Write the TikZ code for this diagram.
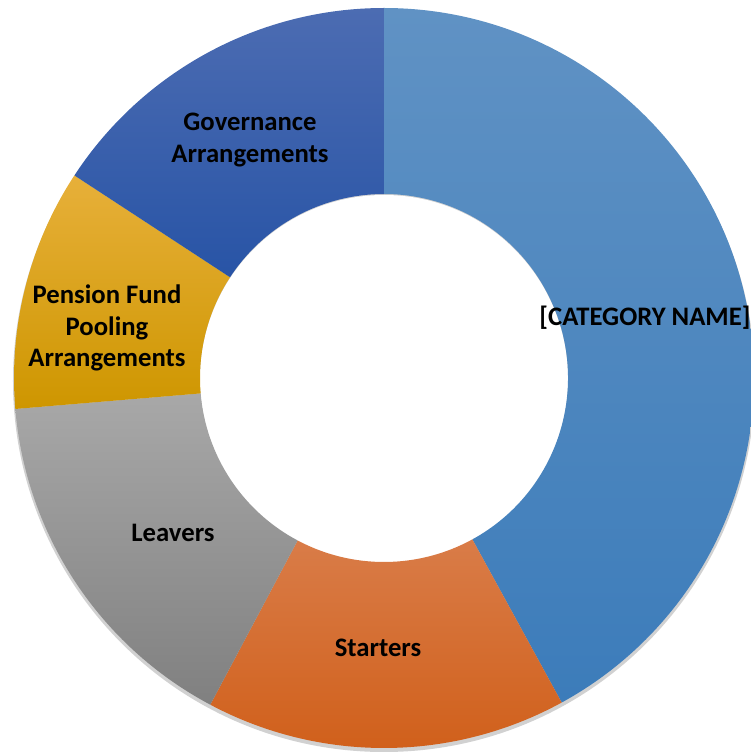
\documentclass[tikz,border=0pt]{standalone}
\usepackage{fontspec}
\setmainfont{Carlito}
\definecolor{mainTop}{RGB}{96,146,196}
\definecolor{mainBot}{RGB}{60,124,186}
\definecolor{startTop}{RGB}{217,124,72}
\definecolor{startBot}{RGB}{208,94,24}
\definecolor{leaveTop}{RGB}{168,168,168}
\definecolor{leaveBot}{RGB}{128,128,128}
\definecolor{poolTop}{RGB}{231,176,58}
\definecolor{poolBot}{RGB}{206,150,0}
\definecolor{govTop}{RGB}{76,108,178}
\definecolor{govBot}{RGB}{40,84,166}
\tikzset{
  lbl/.style={align=center,font=\bfseries\fontsize{26.8}{32}\selectfont,text=black}
}
\begin{document}
\begin{tikzpicture}[x=1bp,y=1bp]
\useasboundingbox (-384,-374) rectangle (367,378);
% soft shadow under the ring
\fill[black!18] (0,-3) circle (371);
\fill[white] (0,-1) circle (184);
% segments, clockwise from the top
\shade[top color=mainTop,bottom color=mainBot] (90:370) arc (90:-61.3:370) -- (-61.3:184) arc (-61.3:90:184) -- cycle;
\shade[top color=startTop,bottom color=startBot] (-61.3:370) arc (-61.3:-118:370) -- (-118:184) arc (-118:-61.3:184) -- cycle;
\shade[top color=leaveTop,bottom color=leaveBot] (-118:370) arc (-118:-175.2:370) -- (-175.2:184) arc (-175.2:-118:184) -- cycle;
\shade[top color=poolTop,bottom color=poolBot] (184.8:370) arc (184.8:146.8:370) -- (146.8:184) arc (146.8:184.8:184) -- cycle;
\shade[top color=govTop,bottom color=govBot] (146.8:370) arc (146.8:90:370) -- (90:184) arc (90:146.8:184) -- cycle;
% labels
\node[lbl] (category) at (261,60) {[CATEGORY NAME]};
\node[lbl] (starters) at (-6,-270) {Starters};
\node[lbl] (leavers) at (-211,-155) {Leavers};
\node[lbl] (pooling) at (-277,50) {Pension Fund\\Pooling\\Arrangements};
\node[lbl] (governance) at (-134,238) {Governance\\Arrangements};
\end{tikzpicture}
\end{document}
